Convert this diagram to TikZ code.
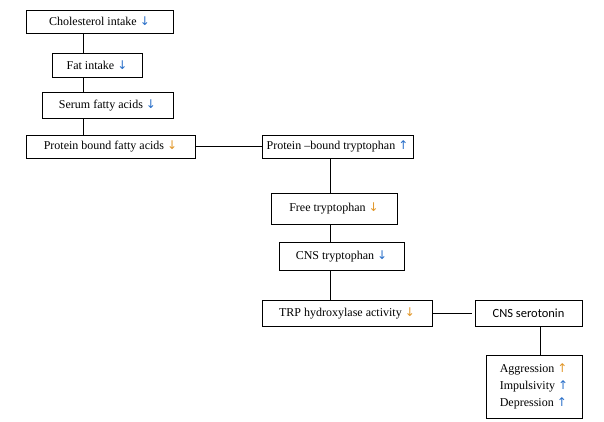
\documentclass[tikz,border=0pt]{standalone}
\usepackage{fontspec}
\setmainfont{Liberation Serif}
\newfontfamily\arrf{DejaVu Sans}
\newfontfamily\calib{Carlito}
\definecolor{ab}{RGB}{40,110,200}
\definecolor{ao}{RGB}{225,150,40}
\newcommand{\dn}[1]{\textcolor{#1}{\arrf\char"2193}}
\newcommand{\up}[1]{\textcolor{#1}{\arrf\char"2191}}
\begin{document}
\begin{tikzpicture}[x=1pt,y=-1pt,
  box/.style={draw,line width=0.7pt,inner sep=0pt,font=\fontsize{12}{14}\selectfont},
  ln/.style={line width=0.7pt}]
\useasboundingbox (0,0) rectangle (604,421);
\newcommand{\bx}[6]{\node[box,minimum width=#4-#2,minimum height=#5-#3] (#1) at ({(#2+#4)/2},{(#3+#5)/2}) {#6};}
\bx{c}{26}{10}{173}{33}{Cholesterol intake \dn{ab}}
\bx{f}{52}{53}{142}{77}{Fat intake \dn{ab}}
\bx{s}{42}{92}{173}{118}{Serum fatty acids \dn{ab}}
\bx{p}{26}{135}{195}{158}{Protein bound fatty acids \dn{ao}}
\bx{t}{262}{135}{413}{158}{Protein --bound tryptophan \up{ab}}
\bx{fr}{271}{193}{397}{224}{Free tryptophan \dn{ao}}
\bx{cn}{279}{242}{404}{270}{CNS tryptophan \dn{ab}}
\bx{h}{262}{300}{432}{326}{TRP hydroxylase activity \dn{ao}}
\bx{se}{475}{300}{582}{326}{\calib\fontsize{12.5}{14}\selectfont CNS serotonin}
\node[box,minimum width=96,minimum height=63,align=left] (ag) at (534,386.5)
 {Aggression \up{ao}\\[3pt] Impulsivity \up{ab}\\[3pt] Depression \up{ab}};
\draw[ln] (83,33) -- (83,53) (83,77) -- (83,92) (83,118) -- (83,135);
\draw[ln] (p.east) -- (t.west);
\draw[ln] (330,158) -- (330,193) (330,224) -- (330,242) (330,270) -- (330,300);
\draw[ln] (h.east) -- (472,313);
\draw[ln] (540,326) -- (540,355);
\end{tikzpicture}
\end{document}
